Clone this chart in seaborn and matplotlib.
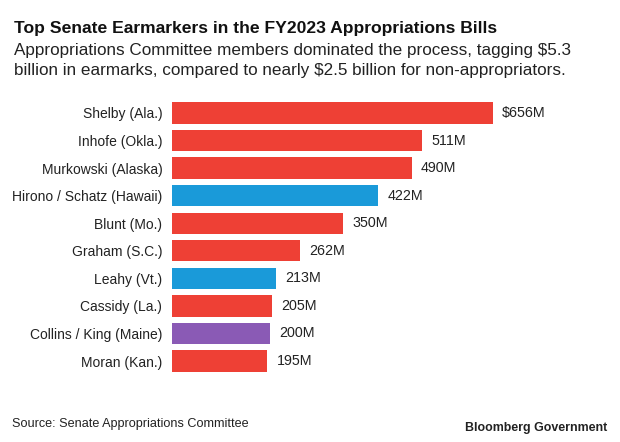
import matplotlib
matplotlib.use("Agg")
import matplotlib.pyplot as plt
import seaborn as sns
import pandas as pd

senators = ["Shelby (Ala.)", "Inhofe (Okla.)", "Murkowski (Alaska)", "Hirono / Schatz (Hawaii)",
            "Blunt (Mo.)", "Graham (S.C.)", "Leahy (Vt.)", "Cassidy (La.)",
            "Collins / King (Maine)", "Moran (Kan.)"]
earmarks = [656, 511, 490, 422, 350, 262, 213, 205, 200, 195]
labels = ["$656M", "511M", "490M", "422M", "350M", "262M", "213M", "205M", "200M", "195M"]
party = ["R", "R", "R", "D", "R", "R", "D", "R", "Both", "R"]

palette = {"R": "#EE4035", "D": "#1A9AD9", "Both": "#8A5AB5"}

df = pd.DataFrame({"senator": senators, "earmarks": earmarks, "party": party})

sns.set_theme(style="white")
plt.rcParams["font.family"] = ["Liberation Sans", "DejaVu Sans"]

fig = plt.figure(figsize=(6.2, 4.42), dpi=100)
ax = fig.add_axes([172 / 620, 0.152, (605 - 172) / 620, 0.6236])

sns.barplot(data=df, x="earmarks", y="senator", hue="party", palette=palette,
            dodge=False, legend=False, width=0.77, ax=ax, saturation=1)

ax.set_xlim(0, 656 * (605 - 172) / 321)
ax.set_ylim(9.5, -0.5)
for c in ax.containers:
    for bar in c:
        bar.set_edgecolor("none")

for i, (v, lab) in enumerate(zip(earmarks, labels)):
    ax.annotate(lab, xy=(v, i), xytext=(6.5, 0), textcoords="offset points",
                va="center", ha="left", fontsize=10.3, color="#222222")

ax.set_xlabel("")
ax.set_ylabel("")
ax.set_xticks([])
ax.tick_params(axis="y", length=0, pad=7, labelsize=10, labelcolor="#222222")
for s in ax.spines.values():
    s.set_visible(False)

fig.text(14 / 620, 1 - 29 / 442, "Top Senate Earmarkers in the FY2023 Appropriations Bills",
         fontsize=12.6, fontweight="bold", va="center", ha="left", color="#111111")
fig.text(14 / 620, 1 - 50 / 442,
         "Appropriations Committee members dominated the process, tagging $5.3",
         fontsize=12.3, va="center", ha="left", color="#222222")
fig.text(14 / 620, 1 - 70 / 442,
         "billion in earmarks, compared to nearly $2.5 billion for non-appropriators.",
         fontsize=12.3, va="center", ha="left", color="#222222")
fig.text(12 / 620, 1 - 424 / 442, "Source: Senate Appropriations Committee",
         fontsize=9.1, va="center", ha="left", color="#222222")
fig.text(607 / 620, 1 - 428 / 442, "Bloomberg Government",
         fontsize=8.9, fontweight="bold", va="center", ha="right", color="#222222")

fig.savefig("out.png", dpi=100, facecolor="white")
